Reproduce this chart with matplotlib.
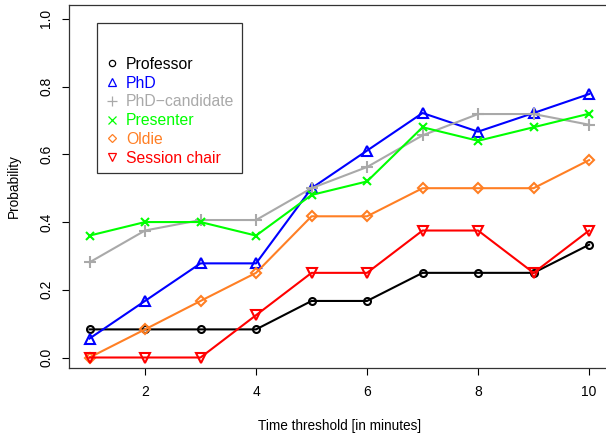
import matplotlib
matplotlib.use("Agg")
import matplotlib.pyplot as plt

plt.rcParams["font.family"] = ["Liberation Sans", "DejaVu Sans"]

minutes = [1, 2, 3, 4, 5, 6, 7, 8, 9, 10]

professor = [0.083, 0.083, 0.083, 0.083, 0.167, 0.167, 0.25, 0.25, 0.25, 0.333]
phd = [0.056, 0.167, 0.278, 0.278, 0.5, 0.611, 0.722, 0.667, 0.722, 0.778]
phd_candidate = [0.281, 0.375, 0.406, 0.406, 0.5, 0.5625, 0.656, 0.719, 0.719, 0.6875]
presenter = [0.36, 0.40, 0.40, 0.36, 0.48, 0.52, 0.68, 0.64, 0.68, 0.72]
oldie = [0.0, 0.083, 0.167, 0.25, 0.417, 0.417, 0.5, 0.5, 0.5, 0.583]
session_chair = [0.0, 0.0, 0.0, 0.125, 0.25, 0.25, 0.375, 0.375, 0.25, 0.375]

series = [
    ("Professor", professor, "#000000", "o", 5.0),
    ("PhD", phd, "#0000FF", "^", 6.5),
    ("PhD\u2212candidate", phd_candidate, "#A9A9A9", "+", 8.0),
    ("Presenter", presenter, "#00FF00", "x", 6.0),
    ("Oldie", oldie, "#FF7F24", "D", 5.0),
    ("Session chair", session_chair, "#FF0000", "v", 6.5),
]

fig = plt.figure(figsize=(6.06, 4.34), dpi=100)
ax = fig.add_axes([69.3 / 606, 66 / 434, 540 / 606, 363 / 434])

handles = []
for label, vals, color, marker, ms in series:
    ax.plot(minutes, vals, color=color, lw=1.5, marker=marker, ms=ms,
            mfc="none", mec=color, mew=1.5)
    h, = ax.plot([], [], linestyle="none", marker=marker, ms=ms * 0.9,
                 mfc="none", mec=color, mew=0.9, label=label)
    handles.append(h)

ax.set_xlim(0.636, 10.364)
ax.set_ylim(-0.031, 1.041)
ax.set_xticks([2, 4, 6, 8, 10])
ax.set_yticks([0.0, 0.2, 0.4, 0.6, 0.8, 1.0])
ax.set_yticklabels(["0.0", "0.2", "0.4", "0.6", "0.8", "1.0"], rotation=90, va="center")
ax.tick_params(direction="out", length=5, width=0.8, labelsize=10, pad=7)
ax.tick_params(axis="y", pad=6.7)
for s in ax.spines.values():
    s.set_linewidth(0.9)
    s.set_color("#333333")

ax.set_xlabel("Time threshold [in minutes]", fontsize=9.8)
ax.set_ylabel("Probability", fontsize=9.8)
ax.xaxis.set_label_coords(0.5, -0.1405)
ax.yaxis.set_label_coords(-0.0894, 0.5)

leg = ax.legend(handles=handles, loc="upper left", bbox_to_anchor=(0.0513, 0.950),
                borderaxespad=0, frameon=True, fancybox=False, edgecolor="#333333",
                framealpha=1, fontsize=11.3, title=" ", title_fontsize=17,
                handlelength=0.91, handletextpad=0.44, borderpad=0.5, labelspacing=0.24)
leg.get_frame().set_linewidth(0.9)
for txt, (label, vals, color, marker, ms) in zip(leg.get_texts(), series):
    txt.set_color(color)

fig.savefig("out.png", dpi=100)
